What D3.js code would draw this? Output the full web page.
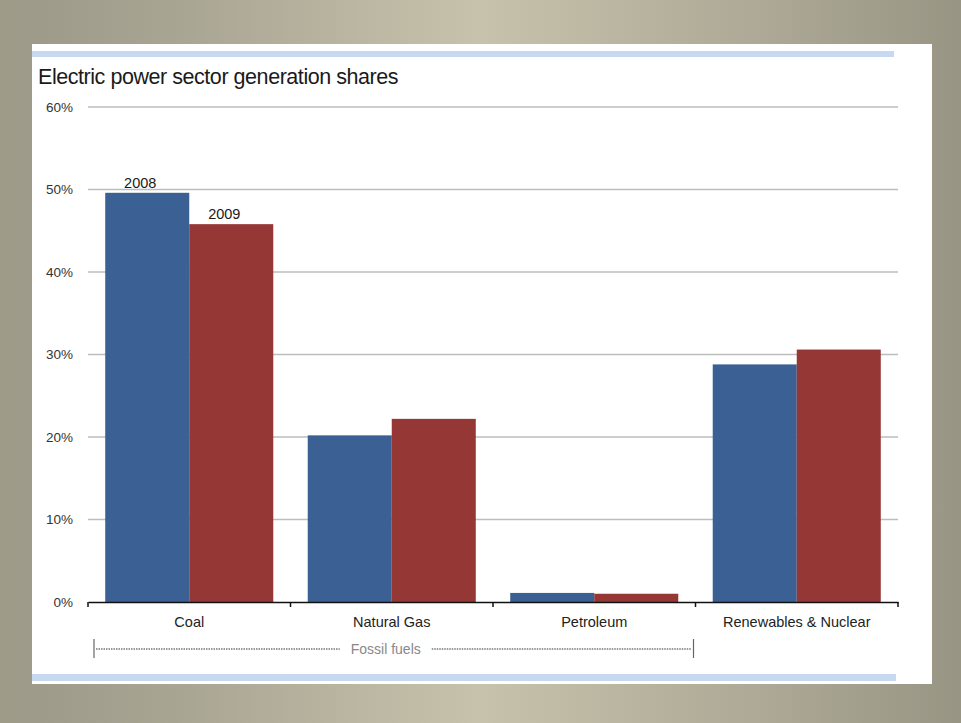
<!DOCTYPE html>
<html>
<head>
<meta charset="utf-8">
<script src="https://cdn.jsdelivr.net/npm/d3@7"></script>
<style>
  html, body { margin: 0; padding: 0; background: #a29e8c; }
  svg { display: block; }
  text { font-family: "Liberation Sans", Arial, sans-serif; }
</style>
</head>
<body>
<svg id="chart" width="961" height="723"></svg>
<script>
// Electric power sector generation shares, by source
const categories = ["Coal", "Natural Gas", "Petroleum", "Renewables & Nuclear"];
const years = ["2008", "2009"];
const share2008 = [49.6, 20.2, 1.1, 28.8];
const share2009 = [45.8, 22.2, 1.0, 30.6];
const yTicks = [0, 10, 20, 30, 40, 50, 60];
const groupLabel = "Fossil fuels";
const groupSpan = ["Coal", "Petroleum"];

const W = 961, H = 723;
const svg = d3.select("#chart");

// slide backdrop
const defs = svg.append("defs");
const bg = defs.append("linearGradient").attr("id", "bg").attr("x1", 0).attr("x2", 1).attr("y1", 0).attr("y2", 0);
[["0%", "#9c9888"], ["20%", "#aaa694"], ["50%", "#c6c2ab"], ["80%", "#aca895"], ["100%", "#999584"]]
  .forEach(([o, c]) => bg.append("stop").attr("offset", o).attr("stop-color", c));
svg.append("rect").attr("width", W).attr("height", H).attr("fill", "url(#bg)");
svg.append("rect").attr("x", 0).attr("y", 0).attr("width", 32).attr("height", H).attr("fill", "#a09c8b").attr("opacity", 0.6);

// white panel with blue rules
svg.append("rect").attr("x", 32).attr("y", 44).attr("width", 900).attr("height", 640).attr("fill", "#ffffff");
svg.append("rect").attr("x", 32).attr("y", 51).attr("width", 862).attr("height", 6).attr("fill", "#c6d9f1");
svg.append("rect").attr("x", 32).attr("y", 674).attr("width", 864).attr("height", 7).attr("fill", "#c6d9f1");

svg.append("text").attr("x", 38).attr("y", 84)
  .attr("font-size", 21.5).attr("letter-spacing", -0.45).attr("fill", "#1a1a1a")
  .text("Electric power sector generation shares");

const x0 = 88, x1 = 898, yTop = 107, yBase = 602;

const x = d3.scaleBand().domain(categories).range([x0, x1]).paddingInner(0).paddingOuter(0);
const xs = d3.scaleBand().domain(years).range([0, x.bandwidth()]).paddingInner(0).paddingOuter(0.205);
const y = d3.scaleLinear().domain([0, 60]).range([yBase, yTop]);

// gridlines
svg.append("g").selectAll("line").data(yTicks.filter(t => t > 0)).join("line")
  .attr("x1", x0).attr("x2", x1)
  .attr("y1", d => y(d)).attr("y2", d => y(d))
  .attr("stroke", "#bdbdbd").attr("stroke-width", 1.3);

// y tick labels
svg.append("g").selectAll("text").data(yTicks).join("text")
  .attr("x", 73).attr("y", d => y(d)).attr("dy", "0.35em")
  .attr("text-anchor", "end").attr("font-size", 13.5).attr("fill", "#333")
  .text(d => d + "%");

// bars
const rows = categories.map((c, i) => ({ cat: c, values: [share2008[i], share2009[i]] }));
const colors = { "2008": "#3b6094", "2009": "#953735" };
const g = svg.append("g").selectAll("g").data(rows).join("g")
  .attr("transform", d => `translate(${x(d.cat)},0)`);
g.selectAll("rect").data(d => years.map((yr, j) => ({ yr, v: d.values[j] }))).join("rect")
  .attr("x", d => xs(d.yr)).attr("width", xs.bandwidth())
  .attr("y", d => y(d.v)).attr("height", d => yBase - y(d.v))
  .attr("fill", d => colors[d.yr]);

// series names above the coal bars
years.forEach((yr, j) => {
  const v = j === 0 ? share2008[0] : share2009[0];
  svg.append("text")
    .attr("x", x("Coal") + xs(yr) + xs.bandwidth() / 2 - 7)
    .attr("y", y(v) - 5)
    .attr("text-anchor", "middle").attr("font-size", 14.5).attr("fill", "#1a1a1a")
    .text(yr);
});

// x axis with category boundary ticks
const axis = d3.axisBottom(x).tickSize(0).tickPadding(15);
const ax = svg.append("g").attr("transform", `translate(0,${yBase})`).call(axis);
ax.select(".domain").attr("stroke", "#111").attr("stroke-width", 1.6);
ax.selectAll(".tick text").attr("font-size", 14.5).attr("fill", "#222")
  .attr("font-family", "Liberation Sans, Arial, sans-serif");
const bounds = categories.map(c => x(c)).concat([x1]);
svg.append("g").selectAll("line").data(bounds).join("line")
  .attr("x1", d => d).attr("x2", d => d)
  .attr("y1", yBase).attr("y2", yBase + 5)
  .attr("stroke", "#111").attr("stroke-width", 1.5);

// fossil fuels bracket
const bx0 = x(groupSpan[0]) + 6, bx1 = x(groupSpan[1]) + x.bandwidth() - 2;
const by = 649, mid = (bx0 + bx1) / 2 - 8;
const br = svg.append("g");
br.append("line").attr("x1", bx0).attr("x2", bx0).attr("y1", 639).attr("y2", 658)
  .attr("stroke", "#666").attr("stroke-width", 1.2);
br.append("line").attr("x1", bx1).attr("x2", bx1).attr("y1", 639).attr("y2", 658)
  .attr("stroke", "#666").attr("stroke-width", 1.2);
br.append("line").attr("x1", bx0 + 2).attr("x2", mid - 46).attr("y1", by).attr("y2", by)
  .attr("stroke", "#777").attr("stroke-width", 1.5).attr("stroke-dasharray", "1.5,1");
br.append("line").attr("x1", mid + 46).attr("x2", bx1 - 2).attr("y1", by).attr("y2", by)
  .attr("stroke", "#777").attr("stroke-width", 1.5).attr("stroke-dasharray", "1.5,1");
br.append("text").attr("x", mid).attr("y", by).attr("dy", "0.35em")
  .attr("text-anchor", "middle").attr("font-size", 14).attr("fill", "#888")
  .text(groupLabel);
</script>
</body>
</html>
